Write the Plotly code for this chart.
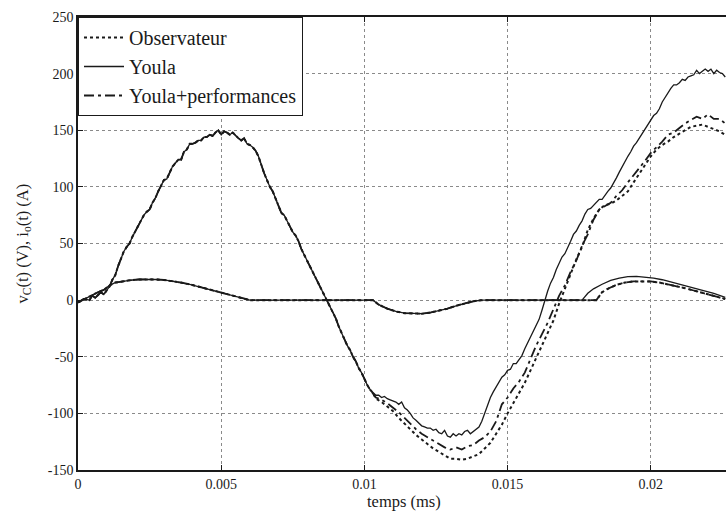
import plotly.graph_objects as go

# ---- common start of v_C(t) (identical for the three controllers) ----
t_vc_common = [0.0000, 0.0002, 0.0004, 0.0005, 0.0006, 0.0008, 0.0009, 0.0010, 0.0011, 0.0012,
               0.0013, 0.0014, 0.0015, 0.0016, 0.0017, 0.0018, 0.0019, 0.0020, 0.0021, 0.0022,
               0.0023, 0.0024, 0.0025, 0.0026, 0.0027, 0.0028, 0.0029, 0.0030, 0.0031, 0.0032,
               0.0033, 0.0034, 0.0035, 0.0036, 0.0037, 0.0038, 0.0039, 0.0040, 0.0041, 0.0042,
               0.0043, 0.0044, 0.0045, 0.0046, 0.0047, 0.0048, 0.0049, 0.0050, 0.0051, 0.0052,
               0.0053, 0.0054, 0.0055, 0.0056, 0.0057, 0.0058, 0.0059, 0.0060, 0.0061, 0.0062,
               0.0063, 0.0064, 0.0065, 0.0066, 0.0067, 0.0068, 0.0069, 0.0070, 0.0071, 0.0072,
               0.0073, 0.0074, 0.0075, 0.0076, 0.0077, 0.0078, 0.0079, 0.0080, 0.0081, 0.0082,
               0.0083, 0.0084, 0.0085, 0.0086, 0.0087, 0.0088, 0.0089, 0.0090, 0.0091, 0.0092,
               0.0093, 0.0094, 0.0095, 0.0096, 0.0097, 0.0098, 0.0099, 0.0100, 0.0101, 0.0102,
               0.0103]
vc_common = [-2, 1, 0, 4, 2, 7, 5, 9, 12, 18,
             22, 30, 37, 43, 47, 50, 56, 61, 65, 71,
             75, 78, 80, 86, 90, 96, 101, 106, 107, 113,
             118, 121, 124, 124, 131, 133, 138, 138, 139, 141,
             141, 144, 144, 146, 145, 148, 150, 146, 149, 148,
             146, 148, 145, 143, 141, 143, 138, 137, 135, 132,
             127, 119, 112, 106, 100, 96, 90, 83, 77, 75,
             70, 65, 60, 57, 52, 45, 40, 35, 29, 25,
             20, 14, 9, 4, 0, -5, -11, -16, -23, -29,
             -34, -40, -44, -50, -54, -60, -64, -70, -75, -79,
             -82]

# ---- v_C(t) after the controllers diverge ----
t_vc_youla = [0.0104, 0.0105, 0.0106, 0.0107, 0.0108, 0.0109, 0.0110, 0.0111, 0.0112, 0.0113,
              0.0114, 0.0115, 0.0116, 0.0117, 0.0118, 0.0119, 0.0120, 0.0121, 0.0122, 0.0123,
              0.0124, 0.0125, 0.0126, 0.0127, 0.0128, 0.0129, 0.0130, 0.0131, 0.0132, 0.0133,
              0.0134, 0.0135, 0.0136, 0.0137, 0.0138, 0.0139, 0.0140, 0.0141, 0.0142, 0.0143,
              0.0144, 0.0145, 0.0146, 0.0147, 0.0148, 0.0149, 0.0150, 0.0151, 0.0152, 0.0153,
              0.0154, 0.0155, 0.0156, 0.0157, 0.0158, 0.0159, 0.0160, 0.0161, 0.0162, 0.0163,
              0.0164, 0.0165, 0.0166, 0.0167, 0.0168, 0.0169, 0.0170, 0.0171, 0.0172, 0.0173,
              0.0174, 0.0175, 0.0176, 0.0177, 0.0178, 0.0179, 0.0180, 0.0181, 0.0182, 0.0183,
              0.0184, 0.0185, 0.0186, 0.0187, 0.0188, 0.0189, 0.0190, 0.0191, 0.0192, 0.0193,
              0.0194, 0.0195, 0.0196, 0.0197, 0.0198, 0.0199, 0.0200, 0.0201, 0.0202, 0.0203,
              0.0204, 0.0205, 0.0206, 0.0207, 0.0208, 0.0209, 0.0210, 0.0211, 0.0212, 0.0213,
              0.0214, 0.0215, 0.0216, 0.0217, 0.0218, 0.0219, 0.0220, 0.0221, 0.0222, 0.0223,
              0.0224, 0.0225, 0.0226]
vc_youla = [-84, -84, -86, -85, -87, -88, -89, -90, -92, -90,
            -95, -97, -100, -104, -106, -109, -111, -112, -113, -113,
            -115, -114, -117, -118, -115, -120, -121, -118, -120, -118,
            -119, -116, -115, -118, -116, -114, -112, -107, -100, -93,
            -86, -81, -77, -73, -68, -66, -62, -61, -56, -56,
            -52, -49, -43, -38, -33, -27, -22, -17, -9, 0,
            8, 15, 20, 27, 33, 38, 41, 46, 52, 58,
            61, 66, 70, 76, 80, 81, 84, 86, 89, 89,
            93, 96, 99, 103, 108, 113, 118, 123, 127, 131,
            136, 139, 143, 147, 152, 156, 160, 163, 165, 169,
            175, 179, 184, 187, 190, 190, 192, 195, 194, 197,
            198, 199, 203, 200, 202, 204, 202, 204, 200, 203,
            201, 200, 197]

t_vc_perf = [0.0104, 0.0106, 0.0108, 0.0110, 0.0112, 0.0114, 0.0116, 0.0118, 0.0120, 0.0122,
             0.0124, 0.0126, 0.0128, 0.0130, 0.0132, 0.0134, 0.0136, 0.0138, 0.0140, 0.0142,
             0.0144, 0.0146, 0.0148, 0.0150, 0.0152, 0.0154, 0.0156, 0.0158, 0.0160, 0.0162,
             0.0164, 0.0166, 0.0168, 0.0170, 0.0172, 0.0174, 0.0176, 0.0178, 0.0180, 0.0182,
             0.0184, 0.0186, 0.0188, 0.0190, 0.0192, 0.0194, 0.0196, 0.0198, 0.0200, 0.0202,
             0.0204, 0.0206, 0.0208, 0.0210, 0.0212, 0.0214, 0.0216, 0.0218, 0.0220, 0.0222,
             0.0224, 0.0226]
vc_perf = [-86, -88, -91, -95, -99, -104, -109, -114, -118, -121,
           -124, -127, -130, -132, -130, -132, -129, -128, -124, -121,
           -116, -107, -92, -86, -78, -72, -64, -52, -40, -30,
           -20, -8, 4, 13, 25, 35, 48, 58, 71, 80,
           83, 86, 92, 97, 104, 110, 116, 123, 130, 135,
           140, 146, 148, 152, 156, 159, 162, 160, 164, 160,
           160, 156]

t_vc_obs = t_vc_perf
vc_obs = [-87, -90, -94, -98, -104, -109, -114, -119, -123, -127,
          -131, -134, -137, -140, -140, -141, -140, -138, -136, -131,
          -126, -118, -110, -100, -91, -82, -73, -62, -51, -41,
          -29, -18, -3, 10, 24, 36, 47, 62, 72, 80,
          84, 85, 88, 92, 96, 104, 112, 120, 127, 133,
          137, 140, 144, 147, 150, 153, 154, 155, 153, 151,
          149, 146]

# ---- i_o(t): common part up to the end of the negative lobe ----
t_io_common = [0.0000, 0.0003, 0.0005, 0.0007, 0.0009, 0.0011, 0.0013, 0.0015, 0.0018, 0.0021,
               0.0024, 0.0027, 0.0030, 0.0033, 0.0036, 0.0039, 0.0042, 0.0045, 0.0048, 0.0051,
               0.0054, 0.0057, 0.0060, 0.0103, 0.0105, 0.0108, 0.0111, 0.0114, 0.0117, 0.0120,
               0.0123, 0.0126, 0.0129, 0.0132, 0.0135, 0.0138, 0.0141]
io_common = [-2, 2, 4, 7, 9, 13, 15.5, 16.5, 17.5, 18.2,
             18.5, 18.3, 17.8, 16.8, 15.5, 14, 12, 10, 8, 6,
             4, 2, 0, 0, -4, -7.5, -10, -11.5, -12, -12,
             -11, -9.5, -7.5, -5, -3, -1, 0]

t_io_youla = [0.0176, 0.0178, 0.0180, 0.0183, 0.0186, 0.0189, 0.0192, 0.0195, 0.0198, 0.0201,
              0.0204, 0.0207, 0.0210, 0.0213, 0.0216, 0.0219, 0.0222, 0.0226]
io_youla = [0, 6, 10, 14, 17.5, 19.5, 20.7, 21, 20.5, 19.5,
            18, 16, 14.5, 12.5, 10.5, 8, 6, 2.5]

t_io_other = [0.0181, 0.0183, 0.0185, 0.0188, 0.0191, 0.0194, 0.0197, 0.0200, 0.0203, 0.0206,
              0.0209, 0.0212, 0.0215, 0.0218, 0.0221, 0.0226]
io_other = [0, 7, 10, 13.5, 15.5, 16.5, 16.8, 16.5, 15.5, 14,
            12.5, 10.5, 8.5, 6.5, 4.5, 1]

x_ticks = [0, 0.005, 0.01, 0.015, 0.02]
x_tick_labels = ["0", "0.005", "0.01", "0.015", "0.02"]
y_ticks = [-150, -100, -50, 0, 50, 100, 150, 200, 250]
y_tick_labels = ["-150", "-100", "-50", "0", "50", "100", "150", "200", "250"]

INK = "#1a1a1a"
FONT = "Liberation Serif"

series = [
    ("Observateur", t_vc_obs, vc_obs, t_io_other, io_other, dict(color=INK, width=2.0, dash="dot")),
    ("Youla", t_vc_youla, vc_youla, t_io_youla, io_youla, dict(color=INK, width=1.3)),
    ("Youla+performances", t_vc_perf, vc_perf, t_io_other, io_other,
     dict(color=INK, width=1.8, dash="10px,4px,3px,4px")),
]

fig = go.Figure()
for name, tv, vv, ti, iv, line in series:
    fig.add_trace(go.Scatter(
        x=t_vc_common + tv, y=vc_common + vv, mode="lines", name=name,
        legendgroup=name, line=line))
    fig.add_trace(go.Scatter(
        x=t_io_common + ti, y=io_common + iv, mode="lines", name=name,
        legendgroup=name, showlegend=False, line=line))

axis_common = dict(
    showline=True, linecolor=INK, linewidth=1.5,
    ticks="inside", ticklen=5, tickcolor=INK, tickwidth=1,
    showgrid=True, gridcolor="#8a8a8a", griddash="dot", gridwidth=1,
    zeroline=False, tickfont=dict(family=FONT, size=14, color=INK),
)

fig.update_xaxes(range=[0, 0.022626], tickvals=x_ticks, ticktext=x_tick_labels,
                 mirror="ticks", **axis_common)
fig.update_yaxes(range=[-150, 250], tickvals=y_ticks, ticktext=y_tick_labels,
                 mirror=False, **axis_common)

fig.add_annotation(text="temps (ms)", xref="paper", yref="paper", x=0.503, y=-0.0706,
                   xanchor="center", yanchor="middle", showarrow=False,
                   font=dict(family=FONT, size=16.5, color=INK))
fig.add_annotation(text="v<sub>C</sub>(t) (V), i<sub>o</sub>(t) (A)", xref="paper", yref="paper",
                   x=-0.0864, y=0.5, xanchor="center", yanchor="middle", textangle=-90,
                   showarrow=False, font=dict(family=FONT, size=16.5, color=INK))

fig.update_layout(
    width=726, height=511,
    margin=dict(l=78, r=0, t=17, b=41),
    paper_bgcolor="white", plot_bgcolor="white",
    font=dict(family=FONT, color=INK),
    legend=dict(x=0, y=1, xanchor="left", yanchor="top", bgcolor="white",
                bordercolor=INK, borderwidth=1, font=dict(family=FONT, size=20, color=INK),
                tracegroupgap=0, itemwidth=40),
    showlegend=True,
)

fig.write_html("out.html")
